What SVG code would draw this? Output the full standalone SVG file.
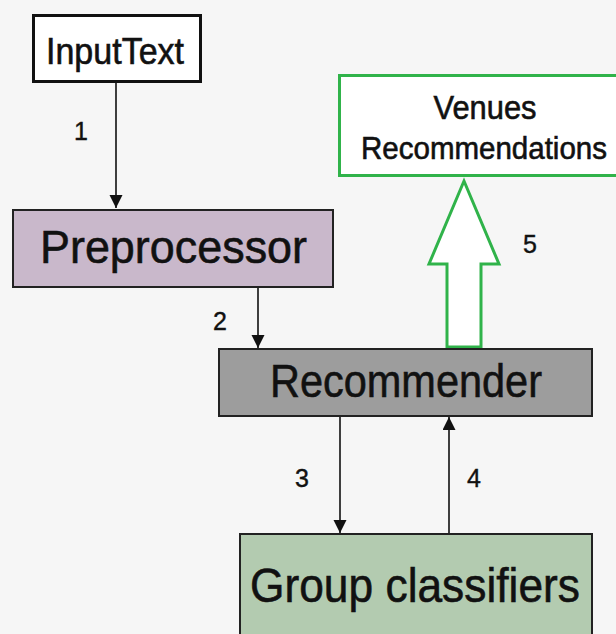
<svg xmlns="http://www.w3.org/2000/svg" width="616" height="634" viewBox="0 0 616 634">
<defs>
<style>
.lbl{font-family:"Liberation Sans",Arial,sans-serif;fill:#111;text-anchor:middle;stroke:#111;stroke-width:0.6}
.num{font-family:"Liberation Sans",Arial,sans-serif;fill:#111;font-size:25px;text-anchor:middle;stroke:#111;stroke-width:0.4}
.box{stroke:#222;stroke-width:2}
.conn{stroke:#111;stroke-width:1.6;fill:none;marker-end:url(#ah)}
</style>
<marker id="ah" markerUnits="userSpaceOnUse" markerWidth="14" markerHeight="18" refX="13" refY="6.5" orient="auto">
<path d="M0,0 L13,6.5 L0,13 Z" fill="#111"/>
</marker>
</defs>
<rect width="616" height="634" fill="#f6f6f6"/>
<g id="connectors">
<line class="conn" x1="116" y1="83" x2="116" y2="208"/>
<line class="conn" x1="258" y1="288" x2="258" y2="348"/>
<line class="conn" x1="340" y1="416" x2="340" y2="533"/>
<line class="conn" x1="449" y1="533" x2="449" y2="417"/>
<polygon id="arrow5" points="447,347 447,264 429,264 464,181 499,264 481,264 481,347" fill="#ffffff" stroke="#30b34a" stroke-width="3"/>
<text class="num" x="81" y="140">1</text>
<text class="num" x="220" y="330">2</text>
<text class="num" x="302" y="487">3</text>
<text class="num" x="474" y="487">4</text>
<text class="num" x="530" y="253">5</text>
</g>
<g id="inputtext">
<rect x="33.5" y="15.5" width="167" height="66" fill="#ffffff" stroke="#111" stroke-width="3"/>
<text class="lbl" x="115" y="64" font-size="36" textLength="138" lengthAdjust="spacingAndGlyphs">InputText</text>
</g>
<g id="preprocessor">
<rect class="box" x="13" y="210" width="320" height="77" fill="#c9b8cb"/>
<text class="lbl" x="173.5" y="263" font-size="47" textLength="267" lengthAdjust="spacingAndGlyphs">Preprocessor</text>
</g>
<g id="venues">
<rect x="339.5" y="75.5" width="285" height="100" fill="#ffffff" stroke="#30b34a" stroke-width="3"/>
<text class="lbl" x="485" y="119" font-size="33" textLength="103" lengthAdjust="spacingAndGlyphs">Venues</text>
<text class="lbl" x="484" y="159" font-size="30.5" textLength="246" lengthAdjust="spacingAndGlyphs">Recommendations</text>
</g>
<g id="recommender">
<rect class="box" x="219" y="349" width="373" height="67" fill="#9d9d9d"/>
<text class="lbl" x="406" y="397" font-size="47" textLength="272" lengthAdjust="spacingAndGlyphs">Recommender</text>
</g>
<g id="groupclassifiers">
<rect class="box" x="240" y="534" width="352" height="110" fill="#b3cbb0"/>
<text class="lbl" x="415" y="602" font-size="49" textLength="330" lengthAdjust="spacingAndGlyphs">Group classifiers</text>
</g>
</svg>
